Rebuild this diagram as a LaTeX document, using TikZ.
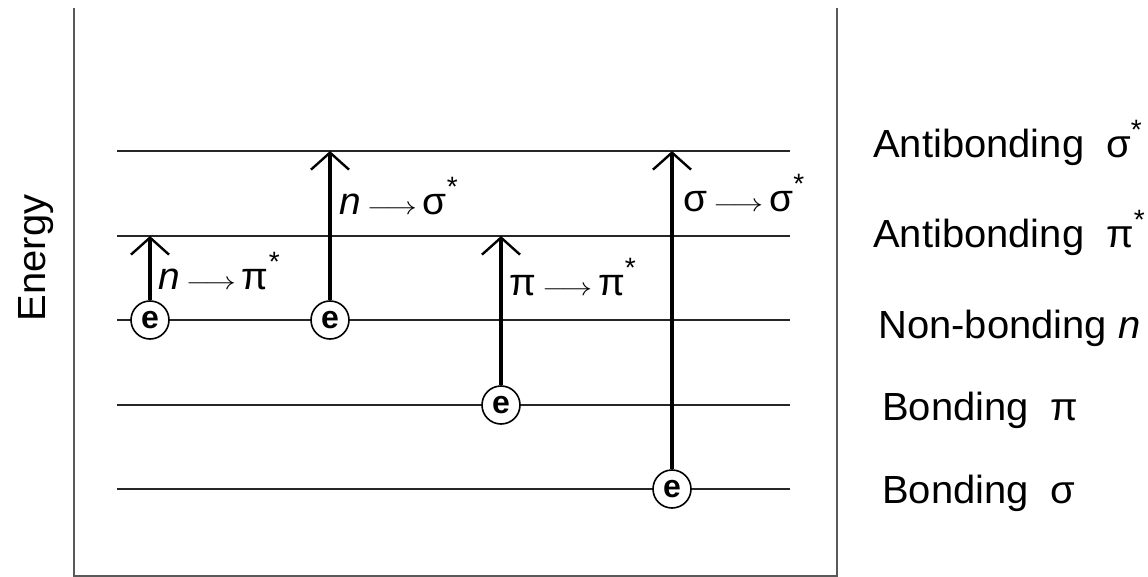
\documentclass[tikz,border=0pt]{standalone}
\usepackage{fontspec}
\usepackage{graphicx}
\setmainfont{Liberation Sans}
\usetikzlibrary{arrows.meta}

% wide, slightly tall lettering
\newcommand{\tallt}[1]{\scalebox{1.08}[1.06]{#1}}
\newcommand{\starup}{\raisebox{0.5em}{\fontsize{28}{28}\selectfont *}}
\newcommand{\lto}{\,\scalebox{1.25}[1]{$\longrightarrow$}\,}
\newcommand{\gap}{\hspace{0.55em}}

\begin{document}
\begin{tikzpicture}[x=1pt,y=-1pt,
  frame/.style={draw=black!65,line width=2.2pt},
  level/.style={draw=black!85,line width=2pt},
  electron/.style={circle,draw=black,line width=1.6pt,fill=white,minimum size=38pt,inner sep=0pt,
    font=\fontsize{32}{32}\selectfont\bfseries},
  excite/.style={line width=4pt,-{Straight Barb[length=17pt,width=38pt,line width=2.4pt]}},
  lbl/.style={anchor=base west,inner sep=0pt,font=\fontsize{37}{40}\selectfont},
  tlbl/.style={anchor=base west,inner sep=0pt,font=\fontsize{36}{40}\selectfont}]
\useasboundingbox (0,0) rectangle (1148,577);

% open frame
\coordinate (ftl) at (74,8);
\coordinate (fbl) at (74,576);
\coordinate (fbr) at (837,576);
\coordinate (ftr) at (837,8);
\draw[frame] (ftl) -- (fbl) -- (fbr) -- (ftr);

% axis label
\node[rotate=90,inner sep=0pt,font=\fontsize{37}{40}\selectfont] (energy) at (36,258) {\tallt{Energy}};

% energy levels
\coordinate (sgs1) at (117,151);  \coordinate (sgs2) at (790,151);
\coordinate (pis1) at (117,236);  \coordinate (pis2) at (790,236);
\coordinate (nb1)  at (117,320);  \coordinate (nb2)  at (790,320);
\coordinate (pi1)  at (117,405);  \coordinate (pi2)  at (790,405);
\coordinate (sg1)  at (117,489);  \coordinate (sg2)  at (790,489);
\foreach \a/\b in {sgs1/sgs2,pis1/pis2,nb1/nb2,pi1/pi2,sg1/sg2}
  \draw[level] (\a) -- (\b);

% electrons
\node[electron] (e1) at (150,320) {e};
\node[electron] (e2) at (330,320) {e};
\node[electron] (e3) at (501,405) {e};
\node[electron] (e4) at (672,489) {e};

% transitions
\draw[excite] (e1.north) -- (e1.north |- pis1);
\draw[excite] (e2.north) -- (e2.north |- sgs1);
\draw[excite] (e3.north) -- (e3.north |- pis1);
\draw[excite] (e4.north) -- (e4.north |- sgs1);

\node[tlbl] (t1) at (158,290) {\tallt{\itshape n}\lto\tallt{π}\starup};
\node[tlbl] (t2) at (339,215) {\tallt{\itshape n}\lto\tallt{σ}\starup};
\node[tlbl] (t3) at (509,295) {\tallt{π}\lto\tallt{π}\starup};
\node[tlbl] (t4) at (683,212) {\tallt{σ}\lto\tallt{σ}\starup};

% level names
\node[lbl] (l1) at (873,158) {\tallt{Antibonding\gap σ}\starup};
\node[lbl] (l2) at (873,248) {\tallt{Antibonding\gap π}\starup};
\node[lbl] (l3) at (878,338) {\tallt{Non-bonding {\itshape n}}};
\node[lbl] (l4) at (882,420) {\tallt{Bonding\gap π}};
\node[lbl] (l5) at (882,503) {\tallt{Bonding\gap σ}};
\end{tikzpicture}
\end{document}
